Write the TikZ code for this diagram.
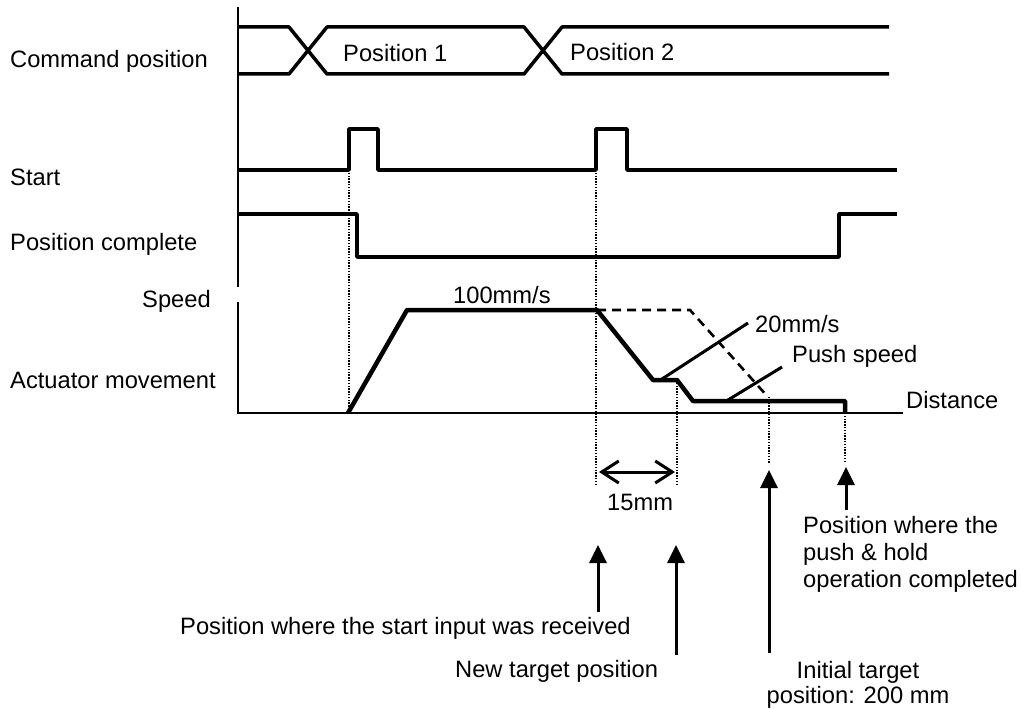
\documentclass[tikz,border=0pt]{standalone}
\usepackage{fontspec}
\setmainfont{Liberation Sans}
\usetikzlibrary{arrows.meta}
\begin{document}
\begin{tikzpicture}[x=1pt,y=-1pt,
  every node/.style={inner sep=0pt, font=\fontsize{23.7}{27}\selectfont},
  sig/.style={line width=3.5pt, line join=bevel},
  prof/.style={line width=4.5pt, line join=bevel},
  axisline/.style={line width=2.6pt},
  dotline/.style={line width=2pt, dash pattern=on 1.4pt off 1.4pt},
  dashline/.style={line width=2.6pt, dash pattern=on 9pt off 6pt},
  leader/.style={line width=3pt},
  uparrow/.style={line width=3pt, -{Triangle[length=18pt,width=17pt]}},
  dimarrow/.style={line width=3pt, {Straight Barb[length=17pt,width=22pt]}-{Straight Barb[length=17pt,width=22pt]}}]
\path[use as bounding box] (0,0) rectangle (1021,709);

% axes
\draw[axisline] (238,7) -- (238,287);
\draw[axisline] (238,302) -- (238,413) -- (903,413);

% command position bus
\draw[sig] (238,27) -- (289,27) -- (327,74) -- (524,74) -- (562,27) -- (889,27);
\draw[sig] (238,74) -- (289,74) -- (327,27) -- (524,27) -- (562,74) -- (889,74);

% start
\draw[sig] (238,170) -- (349,170) -- (349,129) -- (378,129) -- (378,170) -- (596,170) -- (596,129) -- (627,129) -- (627,170) -- (897,170);

% position complete
\draw[sig] (238,214) -- (357,214) -- (357,257) -- (839,257) -- (839,214) -- (897,214);

% speed profile
\coordinate (s0) at (348,413);
\coordinate (s1) at (407,310);
\coordinate (s2) at (597,310);
\coordinate (s3) at (653,380);
\coordinate (s4) at (677,380);
\coordinate (s5) at (693,401);
\coordinate (s6) at (845,401);
\coordinate (s7) at (845,413);
\draw[prof] (s0) -- (s1) -- (s2) -- (s3) -- (s4) -- (s5) -- (s6) -- (s7);
\coordinate (d1) at (690,310);
\coordinate (d2) at (768,397);
\draw[dashline] (s2) -- (d1) -- (d2);

% dotted guides
\coordinate (g1a) at (349,170); \coordinate (g1b) at (349,413);
\coordinate (g2a) at (596,170); \coordinate (g2b) at (596,485);
\coordinate (g3b) at (677,485);
\coordinate (g4a) at (769,397); \coordinate (g4b) at (769,463);
\coordinate (g5b) at (845,463);
\draw[dotline] (g1a) -- (g1b);
\draw[dotline] (g2a) -- (g2b);
\draw[dotline] (s4) -- (g3b);
\draw[dotline] (g4a) -- (g4b);
\draw[dotline] (s7) -- (g5b);

% labels left
\node[anchor=base west] (lcmd) at (10,67) {Command position};
\node[anchor=base west] (lstart) at (10,185) {Start};
\node[anchor=base west] (lpc) at (10,250) {Position complete};
\node[anchor=base west] (lspeed) at (142,307) {Speed};
\node[anchor=base west] (lact) at (10,388) {Actuator movement};

% labels in chart
\node[anchor=base west] (p1) at (343,62) {Position 1};
\node[anchor=base west] (p2) at (570,61) {Position 2};
\node[anchor=base west] (v100) at (453,303) {100mm/s};
\node[anchor=base west] (v20) at (755,332) {20mm/s};
\node[anchor=base west] (vpush) at (792,362) {Push speed};
\node[anchor=base west] (ldist) at (906,408) {Distance};
\node[anchor=base west] (l15) at (607,510) {15mm};

% leaders
\coordinate (l20a) at (662,379); \coordinate (l20b) at (748,323);
\coordinate (lpa) at (728,400); \coordinate (lpb) at (782,367);
\draw[leader] (l20a) -- (l20b);
\draw[leader] (lpa) -- (lpb);

% 15mm dimension
\coordinate (m1) at (599,472); \coordinate (m2) at (675,472);
\draw[dimarrow] (m1) -- (m2);

% bottom arrows
\coordinate (a1a) at (598,612); \coordinate (a1b) at (598,545);
\coordinate (a2a) at (676,655); \coordinate (a2b) at (676,545);
\coordinate (a3a) at (769,653); \coordinate (a3b) at (769,470);
\coordinate (a4a) at (846,510); \coordinate (a4b) at (846,467);
\draw[uparrow] (a1a) -- (a1b);
\draw[uparrow] (a2a) -- (a2b);
\draw[uparrow] (a3a) -- (a3b);
\draw[uparrow] (a4a) -- (a4b);

% bottom labels
\node[anchor=base west] (tstart) at (180,634) {Position where the start input was received};
\node[anchor=base west] (tnew) at (455,677) {New target position};
\node[anchor=base west, align=left] (tpush) at (803,587) {Position where the\\push \& hold\\operation completed};
\node[anchor=base, align=center, font=\fontsize{23.7}{25}\selectfont] (tinit) at (858,703) {Initial target\\position: 200 mm};
\end{tikzpicture}
\end{document}
